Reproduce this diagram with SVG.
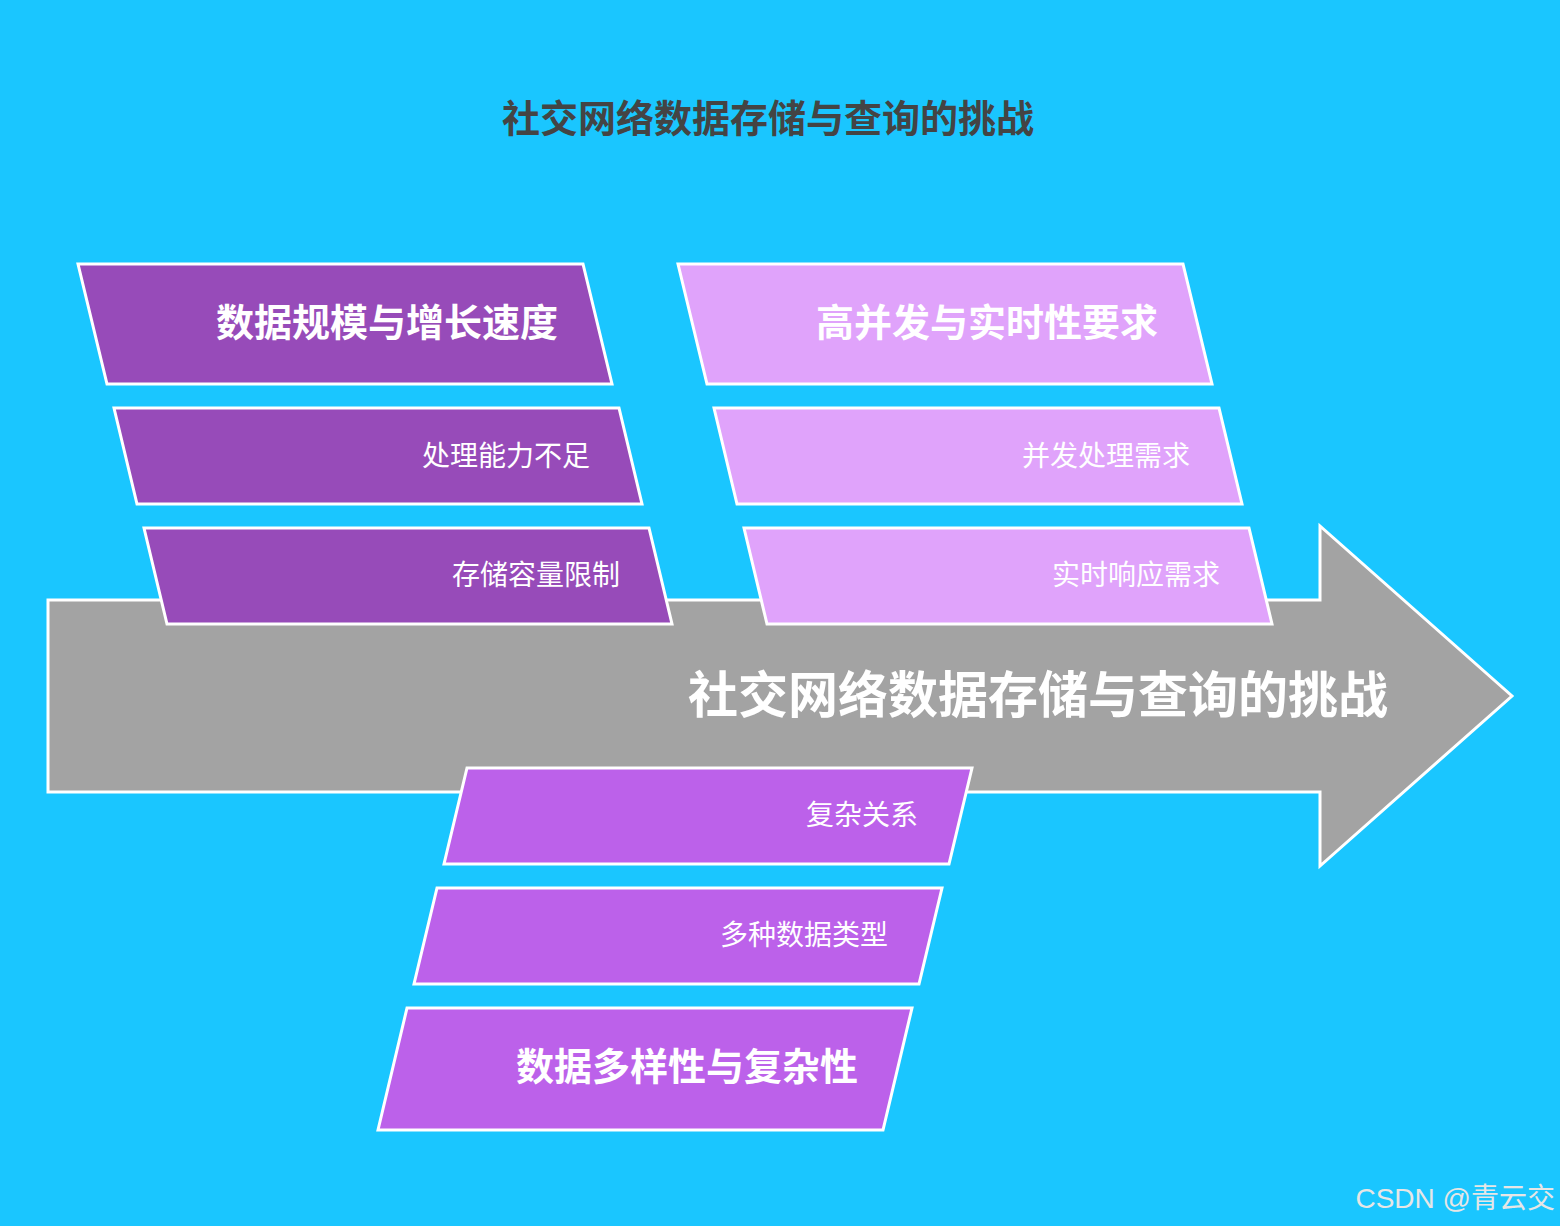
<svg xmlns="http://www.w3.org/2000/svg" width="1560" height="1226" viewBox="0 0 1560 1226">
<style>
.f{font-family:"Liberation Sans","Noto Sans CJK SC",sans-serif}
.p{stroke:#fff;stroke-width:3}
.a{fill:#974BB9}.b{fill:#E0A3FB}.c{fill:#BC61EA}
.big{font-size:38px;font-weight:bold;fill:#fff;text-anchor:end}
.sm{font-size:28px;fill:#fff;text-anchor:end}
</style>
<rect width="1560" height="1226" fill="#1AC6FF"/>
<text class="f" x="768" y="132" font-size="38" font-weight="bold" fill="#444" text-anchor="middle">社交网络数据存储与查询的挑战</text>
<g id="arrow">
<polygon class="p" fill="#A3A3A3" points="48,600 1320,600 1320,526 1512,696 1320,866 1320,792 48,792"/>
<text class="f" x="1388" y="713" font-size="50" font-weight="bold" fill="#fff" text-anchor="end">社交网络数据存储与查询的挑战</text>
</g>
<g id="n1"><polygon class="p a" points="78,264 583,264 612,384 107,384"/><text class="f big" x="558" y="336">数据规模与增长速度</text></g>
<g id="n2"><polygon class="p a" points="114,408 619,408 642,504 137,504"/><text class="f sm" x="590" y="466">处理能力不足</text></g>
<g id="n3"><polygon class="p a" points="144,528 649,528 672,624 167,624"/><text class="f sm" x="620" y="585">存储容量限制</text></g>
<g id="n4"><polygon class="p b" points="678,264 1183,264 1212,384 707,384"/><text class="f big" x="1158" y="336">高并发与实时性要求</text></g>
<g id="n5"><polygon class="p b" points="714,408 1219,408 1242,504 737,504"/><text class="f sm" x="1190" y="466">并发处理需求</text></g>
<g id="n6"><polygon class="p b" points="744,528 1249,528 1272,624 767,624"/><text class="f sm" x="1220" y="585">实时响应需求</text></g>
<g id="n7"><polygon class="p c" points="467,768 972,768 949,864 444,864"/><text class="f sm" x="918" y="825">复杂关系</text></g>
<g id="n8"><polygon class="p c" points="437,888 942,888 919,984 414,984"/><text class="f sm" x="888" y="945">多种数据类型</text></g>
<g id="n9"><polygon class="p c" points="407,1008 912,1008 883,1130 378,1130"/><text class="f big" x="858" y="1080">数据多样性与复杂性</text></g>
<g id="connectors"></g>
<text class="f" x="1555" y="1208" font-size="28" fill="#E6E6E6" text-anchor="end">CSDN @青云交</text>
</svg>
